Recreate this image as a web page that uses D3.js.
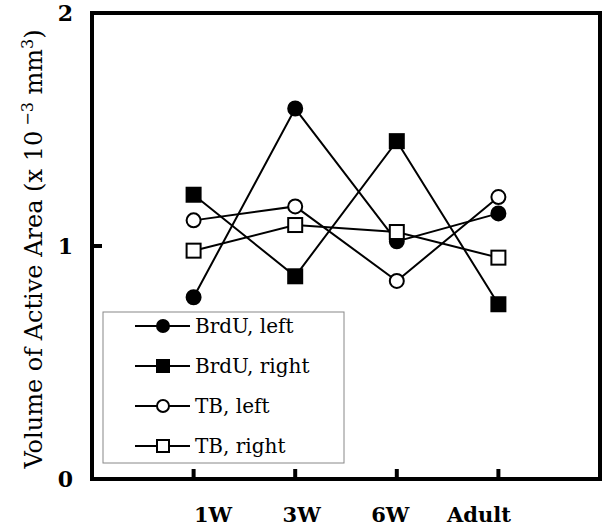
<!DOCTYPE html>
<html>
<head>
<meta charset="utf-8">
<script src="https://cdn.jsdelivr.net/npm/d3@7"></script>
<style>
  body { margin: 0; background: #fff; }
  text { font-family: "DejaVu Serif", serif; fill: #000; }
</style>
</head>
<body>
<script>
// Data
var categories = ["1W", "3W", "6W", "Adult"];
var brduLeft  = [0.78, 1.59, 1.02, 1.14];
var brduRight = [1.22, 0.87, 1.45, 0.75];
var tbLeft    = [1.11, 1.17, 0.85, 1.21];
var tbRight   = [0.98, 1.09, 1.06, 0.95];
var yTicks = [0, 1, 2];

var seriesNames = ["BrdU, left", "BrdU, right", "TB, left", "TB, right"];
var seriesValues = [brduLeft, brduRight, tbLeft, tbRight];
var seriesShapes = ["circle", "square", "circle", "square"];
var seriesFilled = [true, true, false, false];

// Width and height
var w = 603;
var h = 526;

var frame = { left: 92, right: 600, top: 13, bottom: 479 };

// x positions: categories sit at slots 1..4 of a 0..5 frame
var x = d3.scaleLinear()
  .domain([0, 5])
  .range([frame.left, frame.right]);

// labels are spaced a bit tighter than the ticks in the original
var xLabel = d3.scalePoint()
  .domain(categories)
  .range([213, 479]);

var y = d3.scaleLinear()
  .domain([0, 2])
  .range([frame.bottom, frame.top]);

var svg = d3.select("body")
  .append("svg")
  .attr("width", w)
  .attr("height", h);

// Series lines
var line = d3.line()
  .x(function(d, i) { return x(i + 1); })
  .y(function(d) { return y(d); });

seriesValues.forEach(function(vals) {
  svg.append("path")
    .datum(vals)
    .attr("d", line)
    .attr("fill", "none")
    .attr("stroke", "#000")
    .attr("stroke-width", 2);
});

function drawMarker(g, shape, filled, cx, cy, size) {
  if (shape === "circle") {
    g.append("circle")
      .attr("cx", cx).attr("cy", cy).attr("r", size / 2)
      .attr("fill", filled ? "#000" : "#fff")
      .attr("stroke", "#000").attr("stroke-width", 2);
  } else {
    g.append("rect")
      .attr("x", cx - size / 2).attr("y", cy - size / 2)
      .attr("width", size).attr("height", size)
      .attr("fill", filled ? "#000" : "#fff")
      .attr("stroke", "#000").attr("stroke-width", 2);
  }
}

// markers: filled ones first so open ones stay on top
var order = [0, 1, 3, 2];
order.forEach(function(s) {
  var g = svg.append("g");
  seriesValues[s].forEach(function(v, i) {
    drawMarker(g, seriesShapes[s], seriesFilled[s], x(i + 1), y(v), 14);
  });
});

// Frame
svg.append("rect")
  .attr("x", frame.left).attr("y", frame.top)
  .attr("width", frame.right - frame.left)
  .attr("height", frame.bottom - frame.top)
  .attr("fill", "none")
  .attr("stroke", "#000")
  .attr("stroke-width", 4);

// Inward ticks on bottom
categories.forEach(function(c, i) {
  svg.append("line")
    .attr("x1", x(i + 1)).attr("x2", x(i + 1))
    .attr("y1", frame.bottom).attr("y2", frame.bottom - 10)
    .attr("stroke", "#000").attr("stroke-width", 4);
});

// Inward tick on left at 1
yTicks.filter(function(t) { return t > 0 && t < 2; }).forEach(function(t) {
  svg.append("line")
    .attr("x1", frame.left).attr("x2", frame.left + 10)
    .attr("y1", y(t)).attr("y2", y(t))
    .attr("stroke", "#000").attr("stroke-width", 4);
});

// Tick labels
svg.selectAll(".xlab")
  .data(categories)
  .enter()
  .append("text")
  .attr("class", "xlab")
  .attr("x", function(d) { return xLabel(d); })
  .attr("y", 522)
  .attr("text-anchor", "middle")
  .attr("font-size", 21)
  .attr("font-weight", "bold")
  .text(function(d) { return d; });

svg.selectAll(".ylab")
  .data(yTicks)
  .enter()
  .append("text")
  .attr("class", "ylab")
  .attr("x", 73)
  .attr("y", function(d) { return y(d) + 8; })
  .attr("text-anchor", "end")
  .attr("font-size", 22)
  .attr("font-weight", "bold")
  .text(function(d) { return d; });

// Y axis title
var title = svg.append("text")
  .attr("transform", "translate(42," + 249 + ") rotate(-90)")
  .attr("text-anchor", "middle")
  .attr("font-size", 24);
title.append("tspan").text("Volume of Active Area (x 10");
title.append("tspan").attr("dy", -9).attr("font-size", 16).text(" \u22123");
title.append("tspan").attr("dy", 9).text("  mm");
title.append("tspan").attr("dy", -9).attr("font-size", 16).text("3");
title.append("tspan").attr("dy", 9).text(")");

// Legend
var legend = svg.append("g");
legend.append("rect")
  .attr("x", 103).attr("y", 312)
  .attr("width", 241).attr("height", 151)
  .attr("fill", "#fff")
  .attr("stroke", "#888")
  .attr("stroke-width", 1);

var legendY = d3.scalePoint()
  .domain(seriesNames)
  .range([326, 446]);

seriesNames.forEach(function(name, s) {
  var ly = legendY(name);
  legend.append("line")
    .attr("x1", 135).attr("x2", 190)
    .attr("y1", ly).attr("y2", ly)
    .attr("stroke", "#000").attr("stroke-width", 2);
  drawMarker(legend, seriesShapes[s], seriesFilled[s], 163, ly, 12);
  legend.append("text")
    .attr("x", 195)
    .attr("y", ly + 7)
    .attr("font-size", 20)
    .text(name);
});
</script>
</body>
</html>
